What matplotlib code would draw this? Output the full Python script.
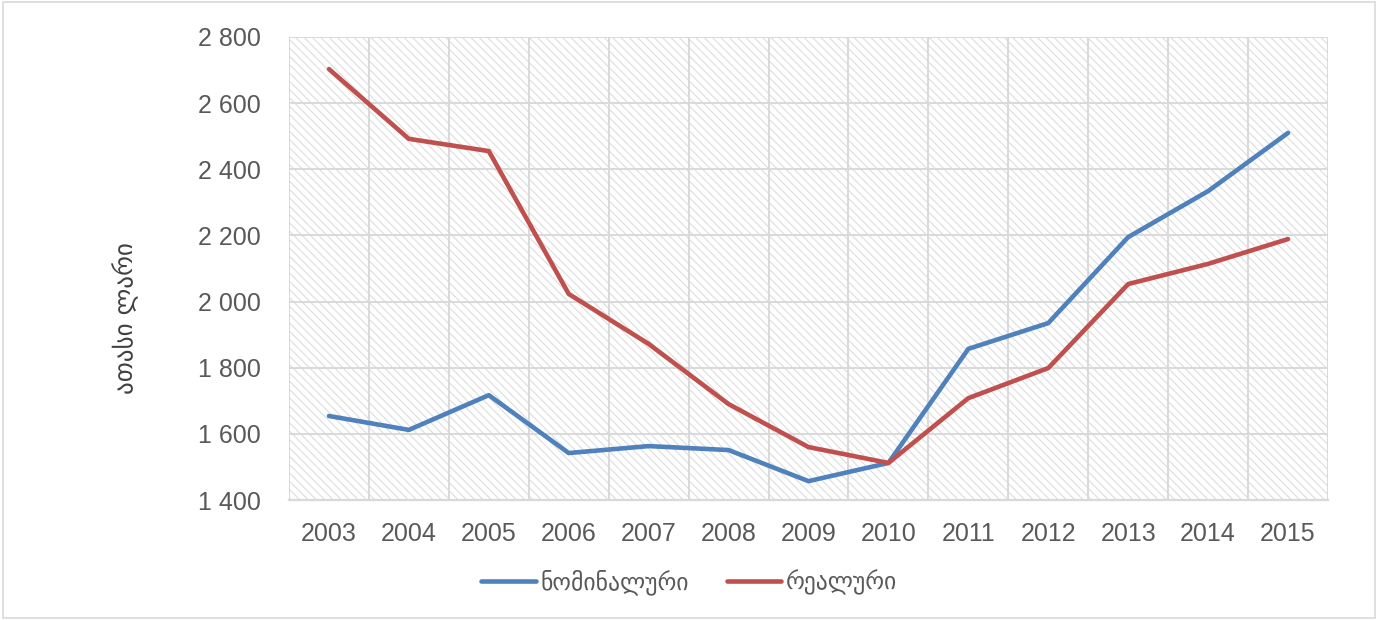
import matplotlib

matplotlib.use("Agg")
import matplotlib.pyplot as plt
from matplotlib.patches import Rectangle
from matplotlib.ticker import FuncFormatter

years = [str(y) for y in range(2003, 2016)]
nominal = [1654, 1612, 1717, 1542, 1563, 1551, 1457, 1512, 1857, 1935, 2195, 2334, 2510]
real = [2703, 2492, 2455, 2023, 1872, 1690, 1560, 1512, 1708, 1799, 2053, 2114, 2189]
series_labels = ["ნომინალური", "რეალური"]
y_label = "ათასი ლარი"

BLUE = "#4f81bd"
RED = "#c0504d"
GRID = "#d9d9d9"
TEXT = "#595959"

plt.rcParams["font.family"] = ["Liberation Sans", "DejaVu Sans"]
plt.rcParams["hatch.linewidth"] = 0.8

fig = plt.figure(figsize=(13.78, 6.2), dpi=100)
ax = fig.add_axes([289 / 1378, 1 - 500 / 620, (1328 - 289) / 1378, (500 - 37) / 620])

# hatched plot area
ax.add_patch(
    Rectangle((0, 0), 1, 1, transform=ax.transAxes, facecolor="white",
              edgecolor="#dddddd", hatch="\\\\\\\\", linewidth=0, zorder=0)
)

x = list(range(len(years)))
ax.plot(x, nominal, color=BLUE, lw=3.3, label=series_labels[0], zorder=3,
        solid_capstyle="round", solid_joinstyle="round")
ax.plot(x, real, color=RED, lw=3.3, label=series_labels[1], zorder=3,
        solid_capstyle="round", solid_joinstyle="round")

ax.set_xlim(-0.5, len(years) - 0.5)
ax.set_ylim(1400, 2800)
ax.set_yticks(range(1400, 2801, 200))
ax.yaxis.set_major_formatter(FuncFormatter(lambda v, _: f"{int(v):,}".replace(",", " ")))
ax.set_xticks(x, years)
ax.set_xticks([i - 0.5 for i in range(len(years) + 1)], minor=True)

ax.grid(axis="y", which="major", color=GRID, lw=1.4, zorder=1)
ax.grid(axis="x", which="minor", color=GRID, lw=1.4, zorder=1)
ax.set_axisbelow(True)
for side in ["top", "right", "left"]:
    ax.spines[side].set_visible(False)
ax.spines["bottom"].set_color(GRID)
ax.spines["bottom"].set_linewidth(1.6)
ax.tick_params(which="both", length=0, labelsize=18, colors=TEXT)
ax.tick_params(axis="x", pad=16)
ax.tick_params(axis="y", pad=20)

fig.text(126 / 1378, 1 - 318 / 620, y_label, rotation=90, ha="center", va="center",
         fontsize=18, color="#404040", family=["DejaVu Sans"])

leg = fig.legend(loc="center", bbox_to_anchor=(0.5, 1 - 582 / 620), ncol=2,
                 frameon=False, handlelength=2.3, handletextpad=0.2, columnspacing=1.6,
                 prop={"family": ["DejaVu Sans"], "size": 17})
for t in leg.get_texts():
    t.set_color(TEXT)

fig.add_artist(Rectangle((0.002, 0.003), 0.996, 0.994, transform=fig.transFigure,
                         fill=False, edgecolor="#d9d9d9", lw=1.2))

fig.savefig("out.png", dpi=100)
